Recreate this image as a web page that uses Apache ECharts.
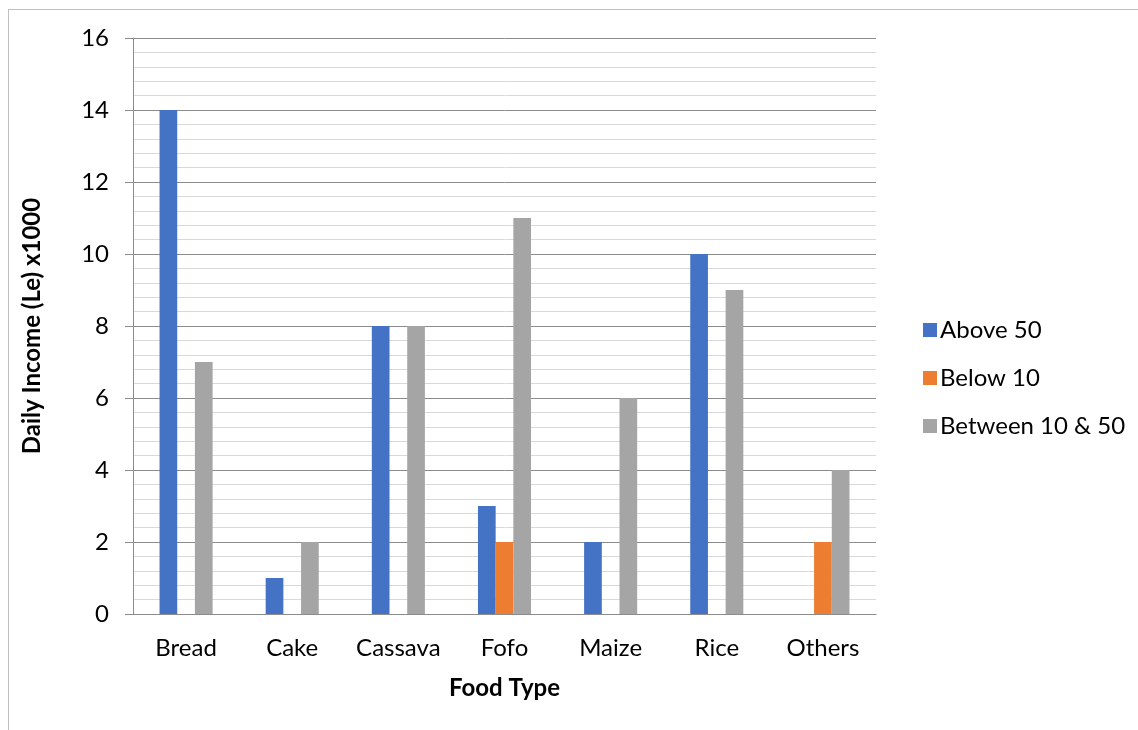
<!DOCTYPE html>
<html>
<head>
<meta charset="utf-8">
<script src="https://cdn.jsdelivr.net/npm/echarts@6/dist/echarts.min.js"></script>
<style>
  html, body { margin: 0; padding: 0; background: #ffffff; overflow: hidden; }
  #frame { position: absolute; left: 8px; top: 9px; width: 1300px; height: 900px; border: 1px solid #bfbfbf; }
  #chart { position: absolute; left: 0; top: 0; width: 1138px; height: 730px; }
</style>
</head>
<body>
<div id="frame"></div>
<div id="chart"></div>
<script>
// Food types on the category axis
const categories = ['Bread', 'Cake', 'Cassava', 'Fofo', 'Maize', 'Rice', 'Others'];
// Daily income groups (Le x1000)
const above50 = [14, 1, 8, 3, 2, 10, null];
const below10 = [null, null, null, 2, null, null, 2];
const between10and50 = [7, 2, 8, 11, 6, 9, 4];
const seriesNames = ['Above 50', 'Below 10', 'Between 10 & 50'];
const yTicks = [0, 2, 4, 6, 8, 10, 12, 14, 16];

const FONT = 'Lato, "Open Sans", sans-serif';
const FS = 24;
const chart = echarts.init(document.getElementById('chart'), null, { renderer: 'canvas' });

chart.setOption({
  animation: false,
  backgroundColor: 'transparent',
  color: ['#4472C4', '#ED7D31', '#A5A5A5'],
  grid: { left: 133, right: 262, top: 38, bottom: 116, containLabel: false },
  legend: {
    orient: 'vertical',
    left: 918,
    top: 313,
    itemWidth: 14,
    itemHeight: 14,
    itemGap: 24,
    icon: 'rect',
    textStyle: { fontFamily: FONT, fontSize: FS, lineHeight: 24, color: '#000', padding: [0, 0, 0, -2] },
    data: seriesNames
  },
  xAxis: {
    type: 'category',
    data: categories,
    axisLine: { show: true, lineStyle: { color: '#8c8c8c', width: 1 } },
    axisTick: { show: false },
    axisLabel: { fontFamily: FONT, fontSize: FS, color: '#000', margin: 22, interval: 0, hideOverlap: false },
    name: 'Food Type',
    nameLocation: 'middle',
    nameGap: 62,
    nameTextStyle: { fontFamily: FONT, fontSize: FS, fontWeight: 'bold', color: '#000' }
  },
  yAxis: {
    type: 'value',
    min: yTicks[0],
    max: yTicks[yTicks.length - 1],
    interval: 2,
    axisLine: { show: true, lineStyle: { color: '#8c8c8c', width: 1 } },
    axisTick: { show: true, inside: false, length: 8, lineStyle: { color: '#8c8c8c' } },
    axisLabel: { fontFamily: FONT, fontSize: FS, color: '#000', margin: 24 },
    splitLine: { show: true, lineStyle: { color: '#8c8c8c', width: 1 } },
    minorTick: { show: false, splitNumber: 5 },
    minorSplitLine: { show: true, lineStyle: { color: '#d9d9d9', width: 1 } },
    name: 'Daily Income (Le) x1000',
    nameLocation: 'middle',
    nameGap: 89,
    nameTextStyle: { fontFamily: FONT, fontSize: FS, fontWeight: 'bold', color: '#000' }
  },
  series: [
    { name: seriesNames[0], type: 'bar', data: above50, barGap: '0%', barCategoryGap: '50%' },
    { name: seriesNames[1], type: 'bar', data: below10, barGap: '0%', barCategoryGap: '50%' },
    { name: seriesNames[2], type: 'bar', data: between10and50, barGap: '0%', barCategoryGap: '50%' }
  ]
});
</script>
</body>
</html>
